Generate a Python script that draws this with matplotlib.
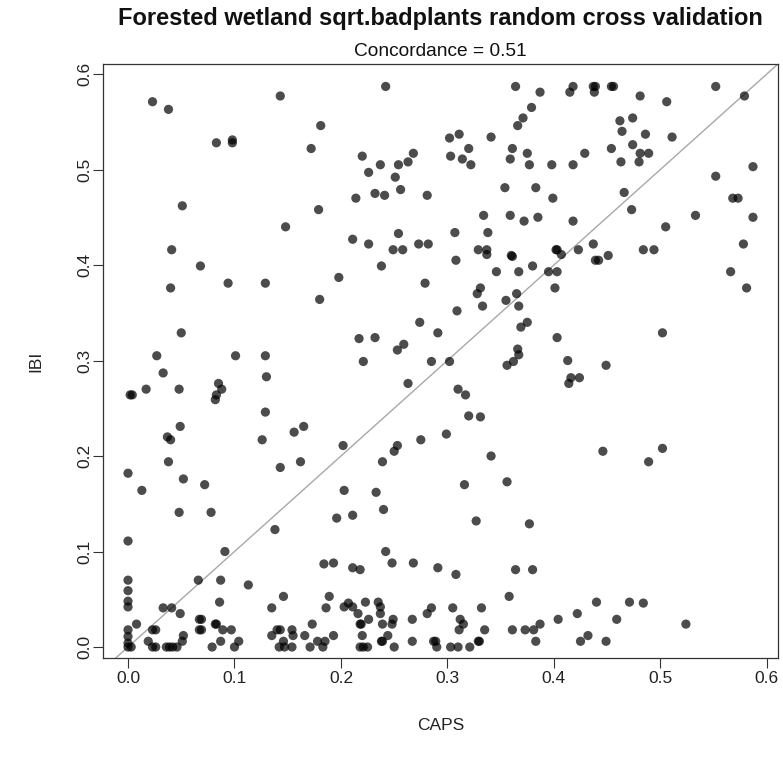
import matplotlib
matplotlib.use("Agg")
import matplotlib.pyplot as plt

plt.rcParams['font.family'] = ['Liberation Sans', 'DejaVu Sans']

# Cross-validated predictions: CAPS (x) vs IBI (y)
caps = [
    0.023, 0.038, 0.143, 0.181, 0.083, 0.098, 0.098, 0.172, 0.051, 0.179, 0.148, 0.041, 0.068,
    0.242, 0.364, 0.387, 0.379, 0.371, 0.366, 0.302, 0.311, 0.341, 0.320, 0.361, 0.375, 0.220,
    0.268, 0.263, 0.237, 0.254, 0.226, 0.251, 0.303, 0.314, 0.322, 0.359, 0.377, 0.398, 0.214,
    0.232, 0.241, 0.256, 0.281, 0.354, 0.383, 0.399, 0.334, 0.359, 0.372, 0.385, 0.211, 0.226,
    0.254, 0.249, 0.258, 0.273, 0.282, 0.307, 0.338, 0.329, 0.337, 0.337, 0.360, 0.361, 0.402,
    0.238, 0.308, 0.380,
    0.418, 0.415, 0.437, 0.439, 0.438, 0.454, 0.456, 0.552, 0.481, 0.506, 0.579, 0.462, 0.474,
    0.464, 0.486, 0.511, 0.474, 0.454, 0.429, 0.481, 0.489, 0.463, 0.480, 0.418, 0.587, 0.552,
    0.466, 0.568, 0.573, 0.473, 0.418, 0.533, 0.587, 0.505, 0.578, 0.437, 0.403, 0.407, 0.423,
    0.439, 0.442, 0.451, 0.484, 0.494,
    0.403, 0.401, 0.566, 0.581, 0.502, 0.403, 0.413, 0.449, 0.416, 0.414, 0.424, 0.446, 0.502,
    0.489,
    0.198, 0.279, 0.346, 0.367, 0.395, 0.331, 0.328, 0.365, 0.355, 0.333, 0.367, 0.309, 0.274,
    0.375, 0.369, 0.291, 0.217, 0.232, 0.259, 0.253, 0.221, 0.285, 0.302, 0.366, 0.367, 0.362,
    0.356, 0.263, 0.310, 0.317, 0.320, 0.331, 0.202, 0.253, 0.250, 0.275, 0.299, 0.341, 0.239,
    0.040, 0.094, 0.129, 0.180, 0.050, 0.027, 0.101, 0.129, 0.033, 0.130, 0.002, 0.004, 0.017,
    0.048, 0.085, 0.088, 0.083, 0.082, 0.129, 0.049, 0.037, 0.040, 0.126, 0.156, 0.165, 0.038,
    0.162,
    0.000, 0.013, 0.052, 0.072, 0.048, 0.078, 0.143, 0.138, 0.000, 0.091, 0.000, 0.000, 0.000,
    0.000, 0.066, 0.087, 0.113, 0.146, 0.086, 0.033, 0.041, 0.049, 0.135, 0.184, 0.193, 0.189,
    0.186, 0.196,
    0.008, 0.000, 0.000, 0.000, 0.000, 0.003, 0.023, 0.026, 0.019, 0.023, 0.026, 0.036, 0.039,
    0.042, 0.046, 0.052, 0.051, 0.067, 0.069, 0.067, 0.069, 0.082, 0.083, 0.089, 0.097, 0.087,
    0.079, 0.104, 0.100, 0.135, 0.140, 0.143, 0.154, 0.155, 0.146, 0.142, 0.147, 0.154, 0.173,
    0.166, 0.178, 0.185, 0.171, 0.183, 0.193,
    0.203, 0.233, 0.211, 0.240, 0.316, 0.356, 0.327, 0.377, 0.242, 0.211, 0.218, 0.248, 0.268,
    0.291, 0.308, 0.364, 0.380, 0.358, 0.203, 0.207, 0.211, 0.216, 0.223, 0.235, 0.237, 0.237,
    0.218, 0.219, 0.226, 0.239, 0.248, 0.249, 0.267, 0.220, 0.218, 0.221, 0.225, 0.238, 0.239,
    0.244, 0.250, 0.267, 0.285, 0.281, 0.305, 0.332, 0.312, 0.315, 0.311, 0.335, 0.361, 0.373,
    0.381, 0.387, 0.383, 0.404, 0.329, 0.330, 0.321, 0.310, 0.303, 0.290, 0.287, 0.289,
    0.440, 0.471, 0.484, 0.422, 0.459, 0.524, 0.432, 0.425, 0.449,
]

ibi = [
    0.571, 0.563, 0.577, 0.546, 0.528, 0.531, 0.528, 0.522, 0.462, 0.458, 0.440, 0.416, 0.399,
    0.587, 0.587, 0.581, 0.565, 0.554, 0.546, 0.533, 0.537, 0.534, 0.522, 0.522, 0.517, 0.514,
    0.517, 0.508, 0.505, 0.505, 0.497, 0.492, 0.514, 0.511, 0.505, 0.511, 0.505, 0.505, 0.470,
    0.475, 0.473, 0.479, 0.473, 0.481, 0.481, 0.470, 0.452, 0.452, 0.446, 0.450, 0.427, 0.422,
    0.433, 0.416, 0.416, 0.422, 0.422, 0.434, 0.434, 0.416, 0.416, 0.411, 0.410, 0.409, 0.416,
    0.399, 0.405, 0.399,
    0.587, 0.581, 0.587, 0.587, 0.581, 0.587, 0.587, 0.587, 0.577, 0.571, 0.577, 0.551, 0.554,
    0.540, 0.537, 0.534, 0.526, 0.522, 0.517, 0.517, 0.517, 0.508, 0.508, 0.505, 0.503, 0.493,
    0.476, 0.470, 0.470, 0.458, 0.446, 0.452, 0.450, 0.440, 0.422, 0.422, 0.416, 0.411, 0.416,
    0.405, 0.405, 0.410, 0.416, 0.416,
    0.393, 0.376, 0.393, 0.376, 0.329, 0.324, 0.300, 0.295, 0.282, 0.276, 0.282, 0.205, 0.208,
    0.194,
    0.387, 0.381, 0.393, 0.393, 0.393, 0.376, 0.370, 0.370, 0.363, 0.357, 0.357, 0.352, 0.340,
    0.340, 0.335, 0.329, 0.323, 0.324, 0.317, 0.311, 0.299, 0.299, 0.299, 0.312, 0.306, 0.299,
    0.295, 0.276, 0.270, 0.264, 0.242, 0.241, 0.211, 0.211, 0.205, 0.217, 0.223, 0.200, 0.194,
    0.376, 0.381, 0.381, 0.364, 0.329, 0.305, 0.305, 0.305, 0.287, 0.283, 0.264, 0.264, 0.270,
    0.270, 0.276, 0.270, 0.264, 0.259, 0.246, 0.231, 0.220, 0.217, 0.217, 0.225, 0.231, 0.194,
    0.194,
    0.182, 0.164, 0.176, 0.170, 0.141, 0.141, 0.188, 0.123, 0.111, 0.100, 0.070, 0.059, 0.048,
    0.042, 0.070, 0.070, 0.065, 0.053, 0.047, 0.041, 0.041, 0.035, 0.041, 0.087, 0.088, 0.053,
    0.041, 0.135,
    0.024, 0.018, 0.011, 0.004, 0.000, 0.000, 0.018, 0.018, 0.006, 0.000, 0.000, 0.000, 0.000,
    0.000, 0.000, 0.012, 0.006, 0.029, 0.029, 0.018, 0.018, 0.024, 0.024, 0.018, 0.018, 0.006,
    0.000, 0.006, 0.000, 0.012, 0.018, 0.018, 0.018, 0.012, 0.006, 0.000, 0.000, 0.000, 0.024,
    0.012, 0.006, 0.006, 0.000, 0.000, 0.012,
    0.164, 0.162, 0.138, 0.144, 0.170, 0.173, 0.132, 0.129, 0.100, 0.083, 0.081, 0.088, 0.088,
    0.083, 0.076, 0.081, 0.081, 0.053, 0.042, 0.046, 0.042, 0.035, 0.047, 0.047, 0.042, 0.035,
    0.024, 0.024, 0.029, 0.024, 0.024, 0.029, 0.029, 0.012, 0.000, 0.000, 0.000, 0.006, 0.006,
    0.012, 0.000, 0.006, 0.041, 0.035, 0.041, 0.041, 0.029, 0.024, 0.018, 0.018, 0.018, 0.018,
    0.018, 0.024, 0.006, 0.029, 0.006, 0.006, 0.000, 0.000, 0.000, 0.000, 0.006, 0.006,
    0.047, 0.047, 0.046, 0.035, 0.029, 0.024, 0.012, 0.006, 0.006,
]

ticks = [0.0, 0.1, 0.2, 0.3, 0.4, 0.5, 0.6]
tick_labels = ["0.0", "0.1", "0.2", "0.3", "0.4", "0.5", "0.6"]

W, H = 783, 766
box_l, box_r, box_t, box_b = 103, 778, 64, 658

fig = plt.figure(figsize=(W / 100, H / 100), dpi=100)
ax = fig.add_axes([box_l / W, (H - box_b) / H, (box_r - box_l) / W, (box_b - box_t) / H])

ax.scatter(caps, ibi, s=44, c="black", alpha=0.7, edgecolors="none", zorder=3)
ax.axline((0, 0), slope=1, color="#a8a8a8", lw=1.0, zorder=2)

ax.set_xlim(-0.0235, 0.6105)
ax.set_ylim(-0.0115, 0.6105)

ax.set_xticks(ticks)
ax.set_xticklabels(tick_labels)
ax.set_yticks(ticks)
ax.set_yticklabels(tick_labels, rotation=90, va="center")
ax.tick_params(axis="both", direction="out", length=7, width=0.8, labelsize=12.5,
               color="#333333", labelcolor="#222222")
ax.tick_params(axis="x", pad=2.5)
ax.tick_params(axis="y", pad=1)

for sp in ax.spines.values():
    sp.set_linewidth(0.9)
    sp.set_color("#333333")

box_w, box_h = box_r - box_l, box_b - box_t
ax.set_xlabel("CAPS", fontsize=12.5, color="#222222", va="center")
ax.xaxis.set_label_coords(0.5, -(725 - box_b) / box_h)
ax.set_ylabel("IBI", fontsize=12.5, color="#222222", va="center")
ax.yaxis.set_label_coords(-(box_l - 36) / box_w, 0.5)

fig.text(440.5 / W, 1 - 18 / H, "Forested wetland sqrt.badplants random cross validation",
         ha="center", va="center", fontsize=17, fontweight="bold", color="#111111")
fig.text(440.5 / W, 1 - 52 / H, "Concordance = 0.51",
         ha="center", va="center", fontsize=13.8, color="#111111")

fig.savefig("out.png", dpi=100, facecolor="white")
